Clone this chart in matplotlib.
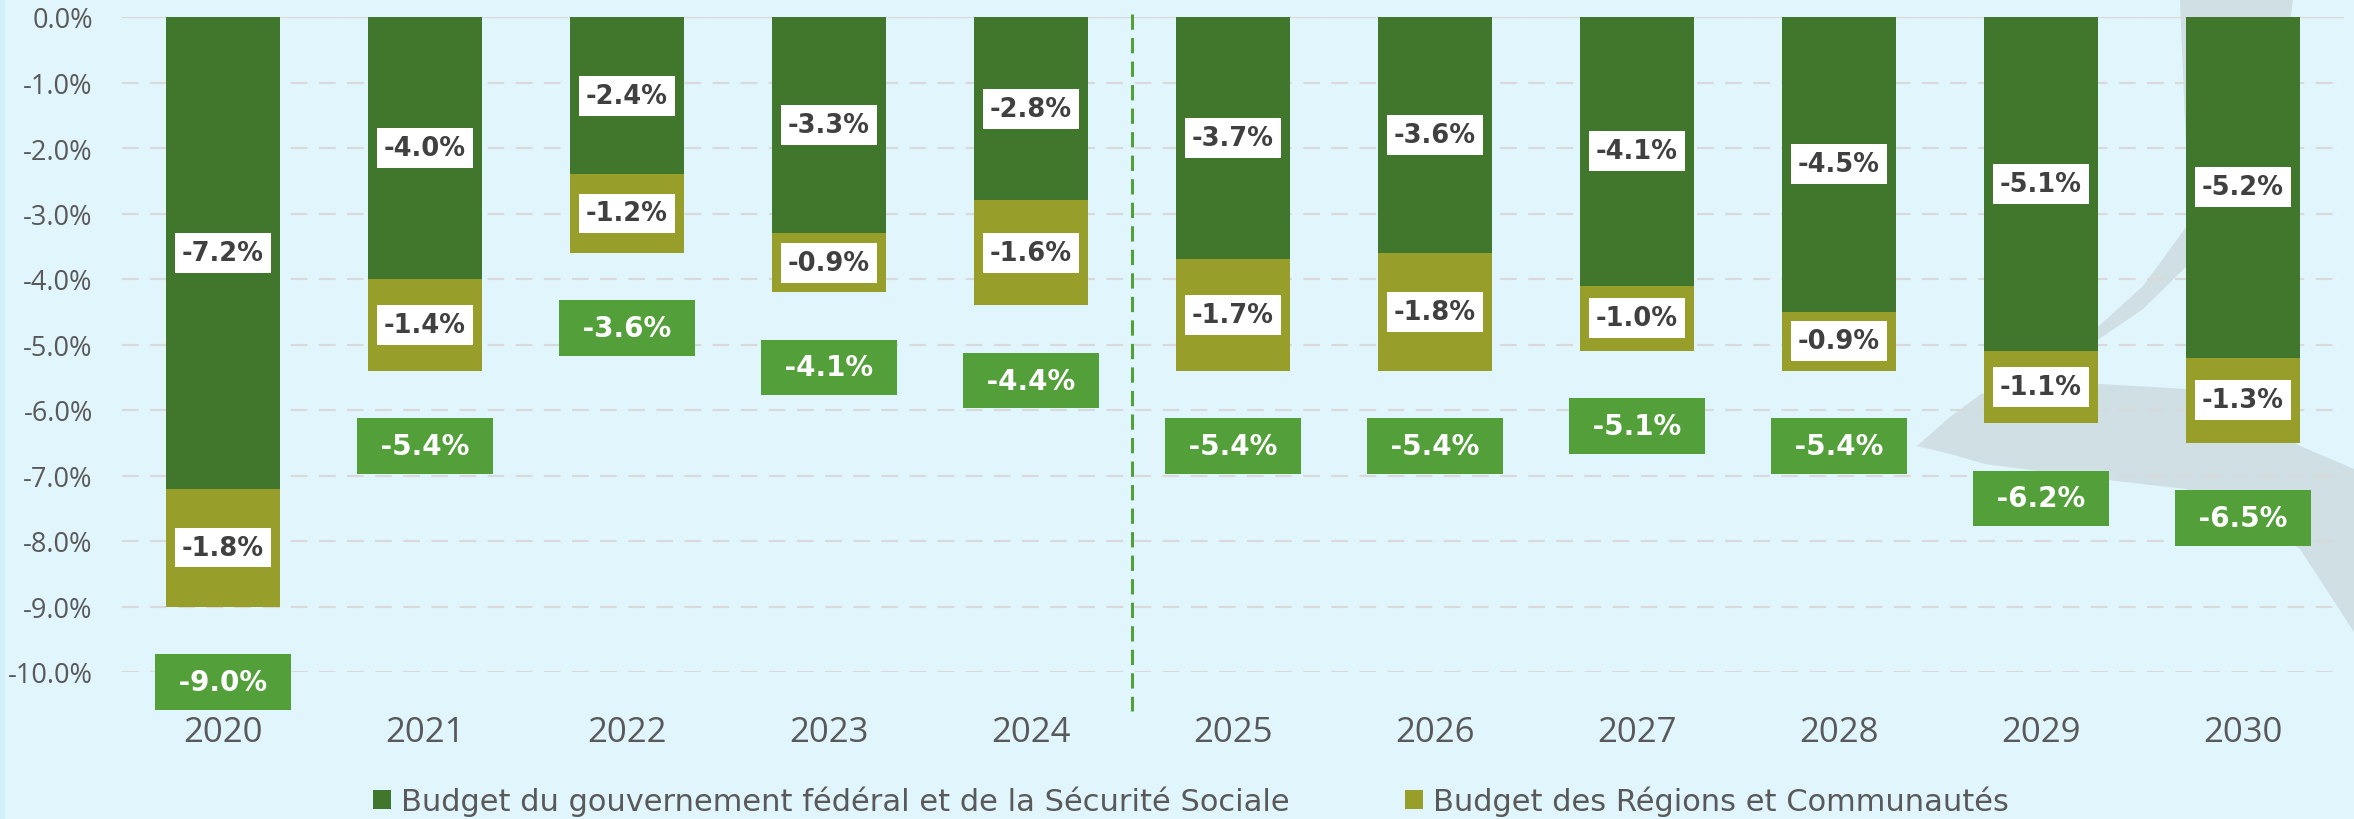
import matplotlib
matplotlib.use("Agg")
import matplotlib.pyplot as plt
from matplotlib.patches import Patch, Polygon, Rectangle
from matplotlib.ticker import FuncFormatter, MultipleLocator

# data
years = ["2020", "2021", "2022", "2023", "2024", "2025", "2026", "2027", "2028", "2029", "2030"]
federal = [-7.2, -4.0, -2.4, -3.3, -2.8, -3.7, -3.6, -4.1, -4.5, -5.1, -5.2]
regional = [-1.8, -1.4, -1.2, -0.9, -1.6, -1.7, -1.8, -1.0, -0.9, -1.1, -1.3]
total = [-9.0, -5.4, -3.6, -4.1, -4.4, -5.4, -5.4, -5.1, -5.4, -6.2, -6.5]
series_names = ["Budget du gouvernement fédéral et de la Sécurité Sociale",
                "Budget des Régions et Communautés"]

# colours
bg = "#E1F5FC"
c_fed = "#41762D"
c_reg = "#979F2A"
c_tot = "#53A03A"
grid_c = "#D9D9D9"
txt_c = "#595959"
lab_c = "#404040"
swoosh_c = "#CFDFE4"

W, H = 2354, 820
fig = plt.figure(figsize=(W / 100, H / 100), dpi=100, facecolor=bg)

# background decoration (logo swoosh), given in pixel coords of the figure
def px(pts):
    return [(x / W, 1 - y / H) for x, y in pts]

top_band = [(2180, 0), (2184, 100), (2188, 190), (2187, 227), (2143, 287), (2099, 327),
            (2060, 348), (2040, 360), (2099, 340), (2143, 310), (2187, 267), (2220, 230),
            (2260, 160), (2283, 80), (2293, 0)]
wedge = [(1917, 447), (1950, 418), (1981, 395), (2040, 388), (2099, 385), (2186, 390),
         (2250, 412), (2300, 447), (2354, 470), (2354, 633), (2300, 550), (2250, 520),
         (2186, 490), (2099, 480), (1985, 465), (1950, 455)]
for shape in (top_band, wedge):
    fig.patches.append(Polygon(px(shape), closed=True, transform=fig.transFigure,
                               facecolor=swoosh_c, edgecolor="none", zorder=-1))
fig.patches.append(Rectangle((0, 0), 5 / W, 1, transform=fig.transFigure,
                             facecolor="#D2F0FA", edgecolor="none", zorder=-1))

ax = fig.add_axes([122 / W, (H - 673) / H, (2344 - 122) / W, (673 - 18) / H])
ax.set_facecolor("none")
ax.set_zorder(1)

x = list(range(len(years)))
bw = 0.565
ax.bar(x, federal, bw, color=c_fed, zorder=2, label=series_names[0])
ax.bar(x, regional, bw, bottom=federal, color=c_reg, zorder=2, label=series_names[1])

ax.set_xlim(-0.5, len(years) - 0.5)
ax.set_ylim(-10, 0)
ax.yaxis.set_major_locator(MultipleLocator(1))
ax.yaxis.set_major_formatter(FuncFormatter(lambda v, p: f"{v + 0.0:.1f}%".replace("-0.0", "0.0")))
ax.set_xticks(x)
ax.set_xticklabels(years)
ax.tick_params(axis="y", length=0, pad=21, labelsize=19.5, labelcolor=txt_c)
ax.tick_params(axis="x", length=0, pad=31, labelsize=25, labelcolor=txt_c)
for t in ax.get_xticklabels() + ax.get_yticklabels():
    t.set_family("Open Sans")
for s in ax.spines.values():
    s.set_visible(False)

ax.set_axisbelow(True)
ax.yaxis.grid(True, color=grid_c, linewidth=1.5, linestyle=(0, (8, 5.5)))
ax.axhline(0, color=grid_c, linewidth=1.6, zorder=1)

# separator between observed and projected years
ax.plot([4.5, 4.5], [0.05, -10.6], color=c_tot, linewidth=2.2,
        linestyle=(0, (5, 2.7)), clip_on=False, zorder=3)

# segment labels
seg_box = dict(boxstyle="square,pad=0.27", facecolor="white", edgecolor="none")
for i in x:
    ax.text(i, federal[i] / 2, f"{federal[i]:.1f}%", ha="center", va="center",
            fontsize=18.5, fontweight="bold", color=lab_c, family="DejaVu Sans",
            zorder=4, bbox=seg_box)
    ax.text(i, federal[i] + regional[i] / 2, f"{regional[i]:.1f}%", ha="center", va="center",
            fontsize=18.5, fontweight="bold", color=lab_c, family="DejaVu Sans",
            zorder=4, bbox=seg_box)
    bottom = federal[i] + regional[i]
    ax.text(i, bottom - 1.15, f" {total[i]:.1f}% ", ha="center", va="center",
            fontsize=20, fontweight="bold", color="white", family="DejaVu Sans", zorder=4,
            bbox=dict(boxstyle="square,pad=0.5", facecolor=c_tot, edgecolor="none"))

handles = [Patch(facecolor=c_fed), Patch(facecolor=c_reg)]
fig.legend(handles, series_names, loc="center", bbox_to_anchor=(1191 / W, 18 / H),
           ncol=2, frameon=False, labelcolor=txt_c, borderpad=0, borderaxespad=0,
           handlelength=0.59, handleheight=0.59, handletextpad=0.33, columnspacing=3.76,
           prop={"family": "DejaVu Sans", "size": 22})

fig.savefig("out.png", dpi=100, facecolor=bg)
